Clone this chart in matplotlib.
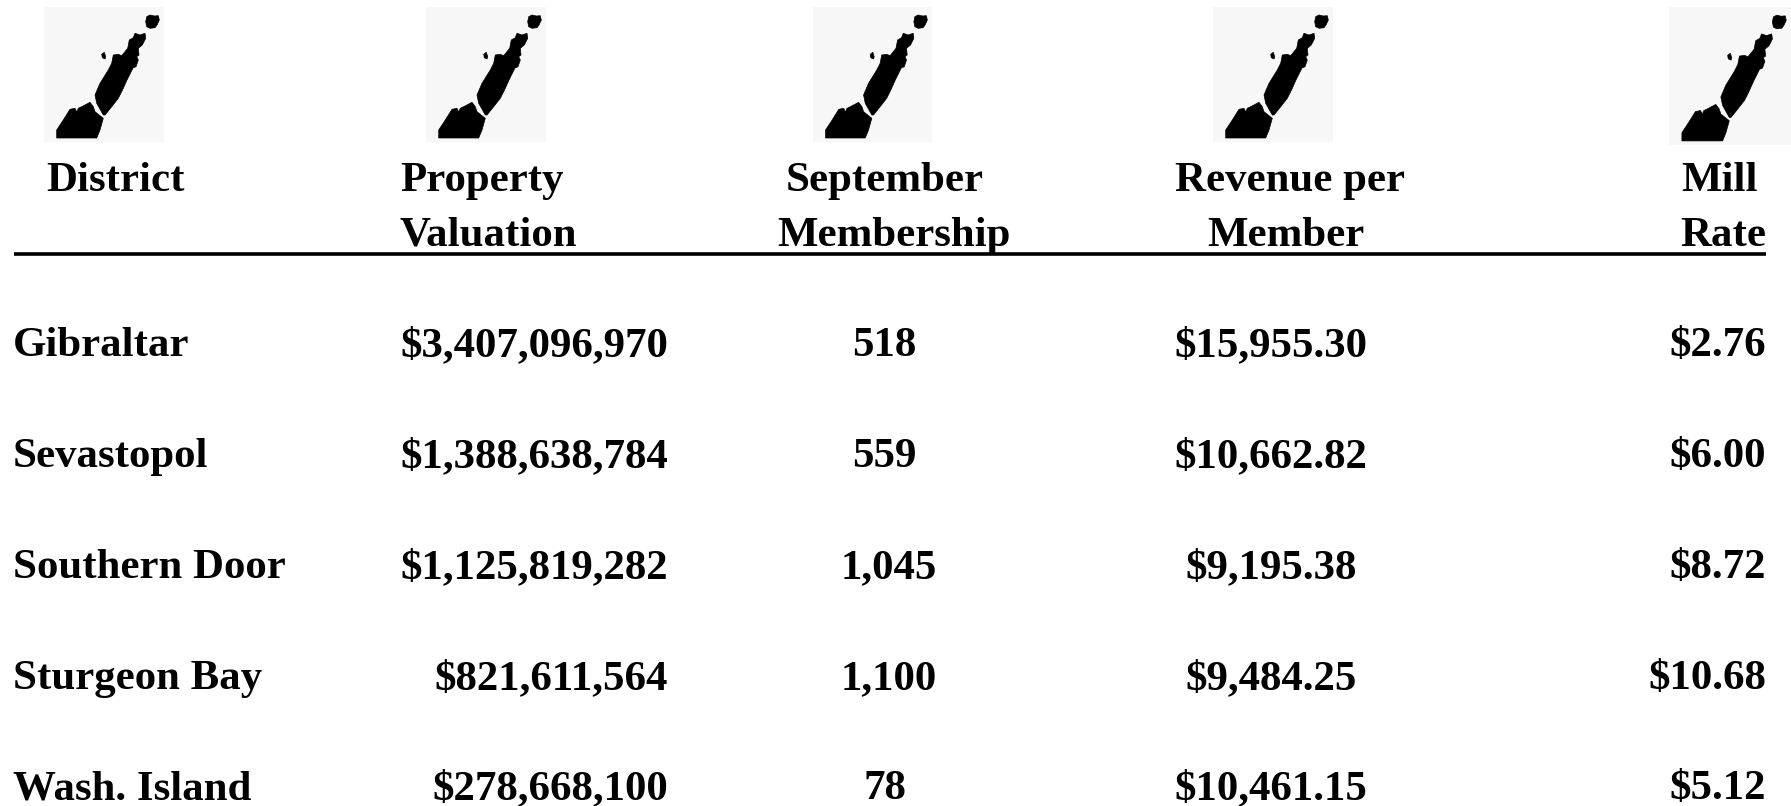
import matplotlib.pyplot as plt
from matplotlib.patches import Polygon, Rectangle

districts = ["Gibraltar", "Sevastopol", "Southern Door", "Sturgeon Bay", "Wash. Island"]
valuation = ["$3,407,096,970", "$1,388,638,784", "$1,125,819,282", "$821,611,564", "$278,668,100"]
membership = ["518", "559", "1,045", "1,100", "78"]
revenue = ["$15,955.30", "$10,662.82", "$9,195.38", "$9,484.25", "$10,461.15"]
mill_rate = ["$2.76", "$6.00", "$8.72", "$10.68", "$5.12"]

# map outline, traced in pixels on the first icon (box 44..164, 7..142)
icon_south = [(56.7, 138), (56.7, 130), (63.3, 120), (70, 109.3), (75, 108.3), (76.7, 112), (78.3, 108.3),
              (81.7, 106.7), (90, 102.3), (93.3, 106.7), (95, 111.7), (103.3, 118.3), (100, 130), (96.7, 138)]
icon_north = [(108.3, 70), (111.7, 63.3), (113.3, 55), (118.3, 54.3), (121.7, 55.7), (127.7, 48.3), (129.3, 40),
              (133.3, 37.7), (135, 33.3), (140, 35), (145, 33.3), (145.7, 38.3), (142.3, 45), (138.3, 48.3),
              (139, 55), (136.7, 56.7), (138.3, 60), (136, 66.7), (133, 68), (131, 72), (127, 80), (122.5, 90),
              (118.3, 98.3), (111.7, 106.7), (105, 115), (103.3, 115), (96.7, 103.3), (95, 95), (100, 83.3)]
icon_door = [(146.7, 16.7), (150, 15), (154.3, 16), (158.3, 15.7), (159.3, 20), (157, 25), (155, 27.7),
             (150, 28.3), (146.7, 26.7), (145.7, 21.7)]
icon_chambers = [(101.7, 54.3), (104.3, 52.3), (105.7, 56.7), (105, 59), (102.3, 57.7)]
icon_boxes = [(44, 164, 142), (426, 546, 142), (813, 932, 142), (1213, 1333, 142), (1669, 1791, 145)]

row_y = [356, 467, 578, 689, 799]
membership_x = [884, 884, 889, 889, 885]
text_style = dict(family="Liberation Serif", weight="bold", fontsize=30.9, color="#000000", va="baseline")

fig = plt.figure(figsize=(17.91, 8.06), dpi=100)
ax = fig.add_axes([0, 0, 1, 1])
ax.set_xlim(0, 1791)
ax.set_ylim(806, 0)
ax.axis("off")

for left, right, bottom in icon_boxes:
    top = 7
    sx = (right - left) / 120
    sy = (bottom - top) / 135
    ax.add_patch(Rectangle((left, top), right - left, bottom - top, fc="#f7f7f7", ec="none"))
    for shape in [icon_south, icon_north, icon_door, icon_chambers]:
        pts = [(left + (x - 44) * sx, top + (y - 7) * sy) for x, y in shape]
        ax.add_patch(Polygon(pts, fc="black", ec="black", lw=0.5))

# header
ax.text(46, 191, "District", ha="left", **text_style)
ax.text(400, 191, "Property", ha="left", **text_style)
ax.text(400, 246, "Valuation", ha="left", **text_style)
ax.text(885, 191, "September", ha="center", **text_style)
ax.text(894, 246, "Membership", ha="center", **text_style)
ax.text(1290, 191, "Revenue per", ha="center", **text_style)
ax.text(1286, 246, "Member", ha="center", **text_style)
ax.text(1758, 191, "Mill", ha="right", **text_style)
ax.text(1766, 246, "Rate", ha="right", **text_style)
ax.plot([14, 1766], [254, 254], color="black", lw=2.6, solid_capstyle="butt")

for i, y in enumerate(row_y):
    ax.text(13, y, districts[i], ha="left", **text_style)
    ax.text(668, y, valuation[i], ha="right", **text_style)
    ax.text(membership_x[i], y, membership[i], ha="center", **text_style)
    ax.text(1271, y, revenue[i], ha="center", **text_style)
    ax.text(1766, y, mill_rate[i], ha="right", **text_style)

plt.savefig("out.png", dpi=100)
plt.close()
